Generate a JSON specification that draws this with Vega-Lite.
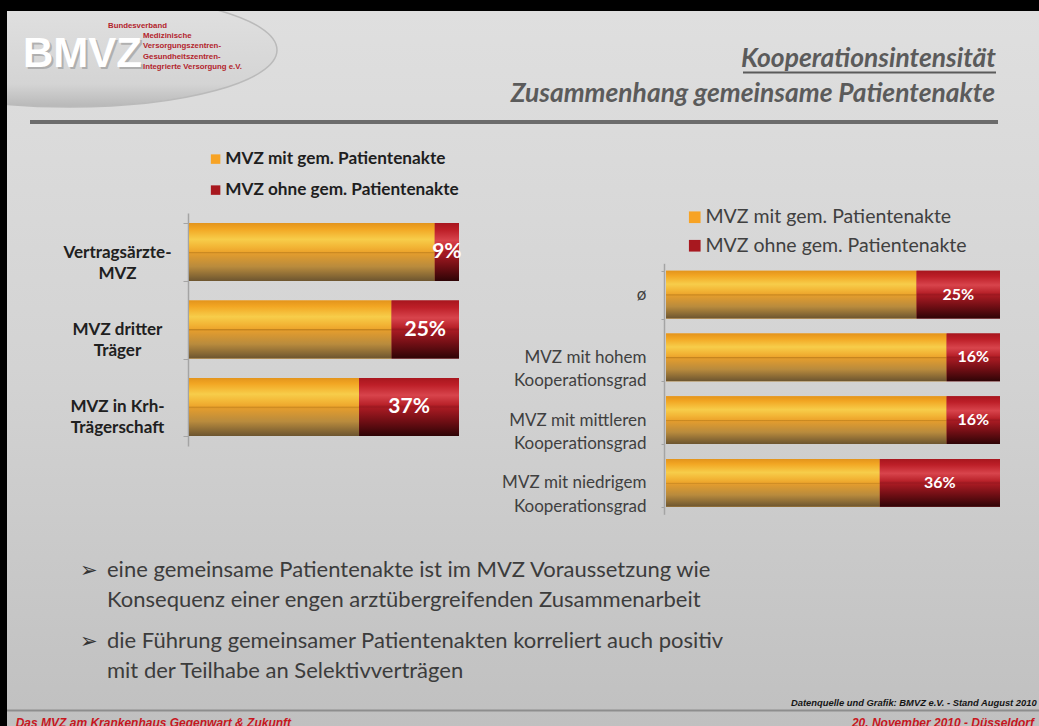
{
  "$schema": "https://vega.github.io/schema/vega-lite/v6.json",
  "width": 1032,
  "height": 715,
  "autosize": {"type": "none"},
  "padding": {"left": 7, "top": 11, "right": 0, "bottom": 0},
  "background": "#000000",
  "config": {
    "view": {
      "stroke": null,
      "fill": {"gradient": "linear", "x1": 0, "y1": 0, "x2": 0, "y2": 1,
        "stops": [{"offset": 0, "color": "#dfdfdf"}, {"offset": 0.5, "color": "#d3d3d3"}, {"offset": 1, "color": "#c0c0c0"}]}
    },
    "font": "Lato"
  },
  "datasets": {
    "links": [
      {"traeger": "Vertragsärzte-MVZ", "gruppe": "MVZ mit gem. Patientenakte", "anteil": 0.91},
      {"traeger": "Vertragsärzte-MVZ", "gruppe": "MVZ ohne gem. Patientenakte", "anteil": 0.09},
      {"traeger": "MVZ dritter Träger", "gruppe": "MVZ mit gem. Patientenakte", "anteil": 0.75},
      {"traeger": "MVZ dritter Träger", "gruppe": "MVZ ohne gem. Patientenakte", "anteil": 0.25},
      {"traeger": "MVZ in Krh-Trägerschaft", "gruppe": "MVZ mit gem. Patientenakte", "anteil": 0.63},
      {"traeger": "MVZ in Krh-Trägerschaft", "gruppe": "MVZ ohne gem. Patientenakte", "anteil": 0.37}
    ],
    "rechts": [
      {"grad": "ø", "gruppe": "MVZ mit gem. Patientenakte", "anteil": 0.75},
      {"grad": "ø", "gruppe": "MVZ ohne gem. Patientenakte", "anteil": 0.25},
      {"grad": "MVZ mit hohem Kooperationsgrad", "gruppe": "MVZ mit gem. Patientenakte", "anteil": 0.84},
      {"grad": "MVZ mit hohem Kooperationsgrad", "gruppe": "MVZ ohne gem. Patientenakte", "anteil": 0.16},
      {"grad": "MVZ mit mittleren Kooperationsgrad", "gruppe": "MVZ mit gem. Patientenakte", "anteil": 0.84},
      {"grad": "MVZ mit mittleren Kooperationsgrad", "gruppe": "MVZ ohne gem. Patientenakte", "anteil": 0.16},
      {"grad": "MVZ mit niedrigem Kooperationsgrad", "gruppe": "MVZ mit gem. Patientenakte", "anteil": 0.64},
      {"grad": "MVZ mit niedrigem Kooperationsgrad", "gruppe": "MVZ ohne gem. Patientenakte", "anteil": 0.36}
    ],
    "aussagen": [
      {"punkt": "➢", "aussage": "eine gemeinsame Patientenakte ist im MVZ Voraussetzung wie\nKonsequenz einer engen arztübergreifenden Zusammenarbeit"},
      {"punkt": "➢", "aussage": "die Führung gemeinsamer Patientenakten korreliert auch positiv\nmit der Teilhabe an Selektivverträgen"}
    ]
  },
  "resolve": {
    "scale": {"x": "independent", "y": "independent", "color": "independent"},
    "axis": {"x": "independent", "y": "independent"},
    "legend": {"color": "independent"}
  },
  "layer": [
    {
      "data": {"values": [{"form": "Logo-Ellipse"}]},
      "mark": {"type": "point", "shape": "M-1,0A1,0.275,0,1,0,1,0A1,0.275,0,1,0,-1,0Z", "filled": true,
        "fill": {"gradient": "linear", "x1": 0, "y1": 0, "x2": 0, "y2": 1,
          "stops": [{"offset": 0, "color": "#e2e2e2"}, {"offset": 0.8, "color": "#d4d4d4"}, {"offset": 1, "color": "#b8b8b8"}]},
        "stroke": "#bababa", "strokeWidth": 1.5, "opacity": 1, "size": 171396, "clip": true},
      "encoding": {
        "x": {"field": "form", "type": "nominal", "scale": {"range": [63, 63]}, "axis": null},
        "y": {"field": "form", "type": "nominal", "scale": {"range": [39, 39]}, "axis": null}
      }
    },
    {
      "data": {"values": [{"logo": "BMVZ"}]},
      "mark": {"type": "text", "font": "Liberation Sans", "fontWeight": "bold", "fontSize": 42, "align": "left", "baseline": "alphabetic", "color": "#8f8f8f", "opacity": 0.55},
      "encoding": {
        "text": {"field": "logo", "type": "nominal"},
        "x": {"field": "logo", "type": "nominal", "scale": {"range": [18, 18]}, "axis": null},
        "y": {"field": "logo", "type": "nominal", "scale": {"range": [57.5, 57.5]}, "axis": null}
      }
    },
    {
      "data": {"values": [{"logo": "BMVZ"}]},
      "mark": {"type": "text", "font": "Liberation Sans", "fontWeight": "bold", "fontSize": 42, "align": "left", "baseline": "alphabetic", "color": "#ffffff"},
      "encoding": {
        "text": {"field": "logo", "type": "nominal"},
        "x": {"field": "logo", "type": "nominal", "scale": {"range": [16, 16]}, "axis": null},
        "y": {"field": "logo", "type": "nominal", "scale": {"range": [55.5, 55.5]}, "axis": null}
      }
    },
    {
      "data": {"values": [{"verband": "Bundesverband"}]},
      "mark": {"type": "text", "font": "Liberation Sans", "fontWeight": "bold", "fontSize": 7.8, "align": "left", "baseline": "alphabetic", "color": "#b3242c"},
      "encoding": {
        "text": {"field": "verband", "type": "nominal"},
        "x": {"field": "verband", "type": "nominal", "scale": {"range": [101, 101]}, "axis": null},
        "y": {"field": "verband", "type": "nominal", "scale": {"range": [17, 17]}, "axis": null}
      }
    },
    {
      "data": {"values": [{"verband": "Medizinische\nVersorgungszentren-\nGesundheitszentren-\nIntegrierte Versorgung e.V."}]},
      "mark": {"type": "text", "font": "Liberation Sans", "fontWeight": "bold", "fontSize": 7.8, "align": "left", "baseline": "alphabetic", "lineBreak": "\n", "lineHeight": 10.3, "color": "#b3242c"},
      "encoding": {
        "text": {"field": "verband", "type": "nominal"},
        "x": {"field": "verband", "type": "nominal", "scale": {"range": [136, 136]}, "axis": null},
        "y": {"field": "verband", "type": "nominal", "scale": {"range": [27, 27]}, "axis": null}
      }
    },
    {
      "data": {"values": [{"titel": "Kooperationsintensität"}]},
      "mark": {"type": "text", "align": "right", "baseline": "alphabetic", "font": "Lato", "fontStyle": "italic", "fontWeight": "bold", "fontSize": 26.4, "color": "#5b5b5b"},
      "encoding": {
        "text": {"field": "titel", "type": "nominal"},
        "x": {"field": "titel", "type": "nominal", "scale": {"range": [989, 989]}, "axis": null},
        "y": {"field": "titel", "type": "nominal", "scale": {"range": [56, 56]}, "axis": null}
      }
    },
    {
      "data": {"values": [{"linie": "Unterstreichung"}]},
      "mark": {"type": "rule", "color": "#5b5b5b", "strokeWidth": 1.8},
      "encoding": {
        "y": {"field": "linie", "type": "nominal", "scale": {"range": [61.5, 61.5]}, "axis": null},
        "x": {"datum": 0, "type": "quantitative", "scale": {"domain": [0, 1], "range": [736, 989], "nice": false}, "axis": null},
        "x2": {"datum": 1}
      }
    },
    {
      "data": {"values": [{"titel": "Zusammenhang gemeinsame Patientenakte"}]},
      "mark": {"type": "text", "align": "right", "baseline": "alphabetic", "font": "Lato", "fontStyle": "italic", "fontWeight": "bold", "fontSize": 26.4, "color": "#5b5b5b"},
      "encoding": {
        "text": {"field": "titel", "type": "nominal"},
        "x": {"field": "titel", "type": "nominal", "scale": {"range": [988, 988]}, "axis": null},
        "y": {"field": "titel", "type": "nominal", "scale": {"range": [91, 91]}, "axis": null}
      }
    },
    {
      "data": {"values": [{"linie": "Kopfzeile"}]},
      "mark": {"type": "rule", "color": "#6c6c6c", "strokeWidth": 4},
      "encoding": {
        "y": {"field": "linie", "type": "nominal", "scale": {"range": [111, 111]}, "axis": null},
        "x": {"datum": 0, "type": "quantitative", "scale": {"domain": [0, 1], "range": [23, 991], "nice": false}, "axis": null},
        "x2": {"datum": 1}
      }
    },
    {
      "data": {"name": "links"},
      "encoding": {
        "y": {
          "field": "traeger", "type": "nominal", "sort": null,
          "scale": {"range": [202, 435], "paddingInner": 0.25, "paddingOuter": 0.13},
          "axis": {
            "orient": "left", "offset": -181, "title": null,
            "domainColor": "#a4a4a4", "domainWidth": 1.5, "tickColor": "#a4a4a4", "tickSize": 5, "tickWidth": 1, "tickBand": "extent",
            "labelFont": "Lato", "labelFontWeight": "bold", "labelFontSize": 17, "labelColor": "#202020",
            "labelAlign": "center", "labelBaseline": "middle", "labelPadding": 66, "labelLineHeight": 21,
            "labelOverlap": false, "labelLimit": 0,
            "labelExpr": "indexof(datum.label, '-') >= 0 ? [substring(datum.label, 0, indexof(datum.label, '-') + 1), substring(datum.label, indexof(datum.label, '-') + 1)] : [substring(datum.label, 0, lastindexof(datum.label, ' ')), substring(datum.label, lastindexof(datum.label, ' ') + 1)]"
          }
        }
      },
      "layer": [
        {
          "transform": [{"stack": "anteil", "groupby": ["traeger"], "sort": [{"field": "gruppe", "order": "ascending"}], "as": ["von", "bis"]}],
          "mark": {"type": "bar"},
          "encoding": {
            "x": {"field": "von", "type": "quantitative",
              "scale": {"domain": [0, 1], "range": [182, 452], "nice": false},
              "axis": {"orient": "bottom", "offset": -280, "title": null, "values": [0, 0.5, 1], "labels": false, "grid": false,
                "tickSize": -233, "tickColor": "#8b8b8b", "tickWidth": 1, "domainColor": "#a4a4a4", "domainWidth": 1.5}},
            "x2": {"field": "bis"},
            "color": {"field": "gruppe", "type": "nominal",
              "scale": {"domain": ["MVZ mit gem. Patientenakte", "MVZ ohne gem. Patientenakte"], "range": ["#f7a325", "#a8181f"]},
              "legend": {"orient": "none", "legendX": 200, "legendY": 139.5, "title": null, "symbolType": "square", "symbolSize": 90, "symbolStrokeWidth": 0,
                "labelFont": "Lato", "labelFontWeight": "bold", "labelFontSize": 17.2, "labelColor": "#1e1e1e", "labelOffset": 1, "rowPadding": 13, "padding": 0, "labelLimit": 400}}
          }
        },
        {
          "transform": [{"stack": "anteil", "groupby": ["traeger"], "sort": [{"field": "gruppe", "order": "ascending"}], "as": ["von", "bis"]}, {"filter": "datum.gruppe === 'MVZ mit gem. Patientenakte'"}],
          "mark": {"type": "bar", "color": {"gradient": "linear", "x1": 0, "y1": 0, "x2": 0, "y2": 1,
            "stops": [{"offset": 0, "color": "#e3941c"}, {"offset": 0.1, "color": "#f2a623"}, {"offset": 0.28, "color": "#f7cd4a"}, {"offset": 0.4, "color": "#f3b737"}, {"offset": 0.49, "color": "#eda52c"}, {"offset": 0.5, "color": "#c4841e"}, {"offset": 0.53, "color": "#e29c2e"}, {"offset": 0.75, "color": "#b98b3d"}, {"offset": 1, "color": "#6c5530"}]}},
          "encoding": {
            "x": {"field": "von", "type": "quantitative", "scale": {"domain": [0, 1], "range": [182, 452], "nice": false}, "axis": null},
            "x2": {"field": "bis"}
          }
        },
        {
          "transform": [{"stack": "anteil", "groupby": ["traeger"], "sort": [{"field": "gruppe", "order": "ascending"}], "as": ["von", "bis"]}, {"filter": "datum.gruppe === 'MVZ ohne gem. Patientenakte'"}],
          "mark": {"type": "bar", "color": {"gradient": "linear", "x1": 0, "y1": 0, "x2": 0, "y2": 1,
            "stops": [{"offset": 0, "color": "#a8161e"}, {"offset": 0.12, "color": "#bd1f28"}, {"offset": 0.3, "color": "#d8444c"}, {"offset": 0.46, "color": "#b9222a"}, {"offset": 0.5, "color": "#9c1820"}, {"offset": 0.53, "color": "#a51a22"}, {"offset": 0.75, "color": "#6f0e14"}, {"offset": 1, "color": "#2e0406"}]}},
          "encoding": {
            "x": {"field": "von", "type": "quantitative", "scale": {"domain": [0, 1], "range": [182, 452], "nice": false}, "axis": null},
            "x2": {"field": "bis"}
          }
        },
        {
          "mark": {"type": "text", "color": "#ffffff", "font": "Lato", "fontWeight": "bold", "fontSize": 21, "align": "center", "baseline": "middle"},
          "encoding": {
            "x": {"field": "anteil", "type": "quantitative", "stack": "zero", "bandPosition": 0.5, "scale": {"domain": [0, 1], "range": [182, 452], "nice": false}, "axis": null},
            "detail": {"field": "gruppe", "type": "nominal"},
            "order": {"field": "gruppe", "type": "ordinal", "sort": "ascending"},
            "text": {"condition": {"test": "datum.gruppe === 'MVZ ohne gem. Patientenakte'", "field": "anteil", "type": "quantitative", "format": ".0%"}, "value": ""}
          }
        }
      ]
    },
    {
      "data": {"name": "rechts"},
      "encoding": {
        "y": {
          "field": "grad", "type": "nominal", "sort": null,
          "scale": {"range": [252.3, 503.3], "paddingInner": 0.24, "paddingOuter": 0.12},
          "axis": {
            "orient": "left", "offset": -657, "title": null,
            "domainColor": "#a4a4a4", "domainWidth": 1.5, "tickColor": "#a4a4a4", "tickSize": 3, "tickWidth": 1, "tickBand": "extent",
            "labelFont": "Lato", "labelFontSize": 17, "labelColor": "#404040",
            "labelAlign": "right", "labelBaseline": "middle", "labelPadding": 15, "labelLineHeight": 23.4,
            "labelOverlap": false, "labelLimit": 0,
            "labelExpr": "lastindexof(datum.label, ' ') > 0 ? [substring(datum.label, 0, lastindexof(datum.label, ' ')), substring(datum.label, lastindexof(datum.label, ' ') + 1)] : datum.label"
          }
        }
      },
      "layer": [
        {
          "transform": [{"stack": "anteil", "groupby": ["grad"], "sort": [{"field": "gruppe", "order": "ascending"}], "as": ["von", "bis"]}],
          "mark": {"type": "bar"},
          "encoding": {
            "x": {"field": "von", "type": "quantitative",
              "scale": {"domain": [0, 1], "range": [659, 993], "nice": false},
              "axis": {"orient": "bottom", "offset": -211.7, "title": null, "values": [0, 0.5, 1], "labels": false, "grid": false,
                "tickSize": -251, "tickColor": "#8b8b8b", "tickWidth": 1, "domainColor": "#a4a4a4", "domainWidth": 1.5}},
            "x2": {"field": "bis"},
            "color": {"field": "gruppe", "type": "nominal",
              "scale": {"domain": ["MVZ mit gem. Patientenakte", "MVZ ohne gem. Patientenakte"], "range": ["#f7a325", "#a8181f"]},
              "legend": {"orient": "none", "legendX": 678, "legendY": 196.5, "title": null, "symbolType": "square", "symbolSize": 136, "symbolStrokeWidth": 0,
                "labelFont": "Lato", "labelFontSize": 19.5, "labelColor": "#404040", "labelOffset": 1, "rowPadding": 7.5, "padding": 0, "labelLimit": 400}}
          }
        },
        {
          "transform": [{"stack": "anteil", "groupby": ["grad"], "sort": [{"field": "gruppe", "order": "ascending"}], "as": ["von", "bis"]}, {"filter": "datum.gruppe === 'MVZ mit gem. Patientenakte'"}],
          "mark": {"type": "bar", "color": {"gradient": "linear", "x1": 0, "y1": 0, "x2": 0, "y2": 1,
            "stops": [{"offset": 0, "color": "#e3941c"}, {"offset": 0.1, "color": "#f2a623"}, {"offset": 0.28, "color": "#f7cd4a"}, {"offset": 0.4, "color": "#f3b737"}, {"offset": 0.49, "color": "#eda52c"}, {"offset": 0.5, "color": "#c4841e"}, {"offset": 0.53, "color": "#e29c2e"}, {"offset": 0.75, "color": "#b98b3d"}, {"offset": 1, "color": "#6c5530"}]}},
          "encoding": {
            "x": {"field": "von", "type": "quantitative", "scale": {"domain": [0, 1], "range": [659, 993], "nice": false}, "axis": null},
            "x2": {"field": "bis"}
          }
        },
        {
          "transform": [{"stack": "anteil", "groupby": ["grad"], "sort": [{"field": "gruppe", "order": "ascending"}], "as": ["von", "bis"]}, {"filter": "datum.gruppe === 'MVZ ohne gem. Patientenakte'"}],
          "mark": {"type": "bar", "color": {"gradient": "linear", "x1": 0, "y1": 0, "x2": 0, "y2": 1,
            "stops": [{"offset": 0, "color": "#a8161e"}, {"offset": 0.12, "color": "#bd1f28"}, {"offset": 0.3, "color": "#d8444c"}, {"offset": 0.46, "color": "#b9222a"}, {"offset": 0.5, "color": "#9c1820"}, {"offset": 0.53, "color": "#a51a22"}, {"offset": 0.75, "color": "#6f0e14"}, {"offset": 1, "color": "#2e0406"}]}},
          "encoding": {
            "x": {"field": "von", "type": "quantitative", "scale": {"domain": [0, 1], "range": [659, 993], "nice": false}, "axis": null},
            "x2": {"field": "bis"}
          }
        },
        {
          "mark": {"type": "text", "color": "#ffffff", "font": "Lato", "fontWeight": "bold", "fontSize": 16, "align": "center", "baseline": "middle"},
          "encoding": {
            "x": {"field": "anteil", "type": "quantitative", "stack": "zero", "bandPosition": 0.5, "scale": {"domain": [0, 1], "range": [659, 993], "nice": false}, "axis": null},
            "detail": {"field": "gruppe", "type": "nominal"},
            "order": {"field": "gruppe", "type": "ordinal", "sort": "ascending"},
            "text": {"condition": {"test": "datum.gruppe === 'MVZ ohne gem. Patientenakte'", "field": "anteil", "type": "quantitative", "format": ".0%"}, "value": ""}
          }
        }
      ]
    },
    {
      "data": {"name": "aussagen"},
      "mark": {"type": "text", "font": "DejaVu Sans", "fontSize": 21, "align": "left", "baseline": "middle", "color": "#333333"},
      "encoding": {
        "text": {"field": "punkt", "type": "nominal"},
        "x": {"field": "punkt", "type": "nominal", "scale": {"range": [73, 73]}, "axis": null},
        "y": {"field": "aussage", "type": "nominal", "sort": null, "scale": {"range": [560, 631], "padding": 0}, "axis": null}
      }
    },
    {
      "data": {"name": "aussagen"},
      "mark": {"type": "text", "font": "Lato", "fontSize": 22, "align": "left", "baseline": "alphabetic", "lineBreak": "\n", "lineHeight": 29.5, "color": "#3c3c3c"},
      "encoding": {
        "text": {"field": "aussage", "type": "nominal"},
        "x": {"field": "punkt", "type": "nominal", "scale": {"range": [100, 100]}, "axis": null},
        "y": {"field": "aussage", "type": "nominal", "sort": null, "scale": {"range": [566, 637], "padding": 0}, "axis": null}
      }
    },
    {
      "data": {"values": [{"quelle": "Datenquelle und Grafik: BMVZ e.V. - Stand August 2010"}]},
      "mark": {"type": "text", "font": "Liberation Sans", "fontStyle": "italic", "fontWeight": "bold", "fontSize": 9.4, "align": "right", "baseline": "alphabetic", "color": "#151515"},
      "encoding": {
        "text": {"field": "quelle", "type": "nominal"},
        "x": {"field": "quelle", "type": "nominal", "scale": {"range": [1029.7, 1029.7]}, "axis": null},
        "y": {"field": "quelle", "type": "nominal", "scale": {"range": [695, 695]}, "axis": null}
      }
    },
    {
      "data": {"values": [{"linie": "Fußzeile"}]},
      "mark": {"type": "rule", "color": "#8d8d8d", "strokeWidth": 2},
      "encoding": {
        "y": {"field": "linie", "type": "nominal", "scale": {"range": [699.5, 699.5]}, "axis": null}
      }
    },
    {
      "data": {"values": [{"fuss": "Das MVZ am Krankenhaus Gegenwart & Zukunft"}]},
      "mark": {"type": "text", "font": "Liberation Sans", "fontStyle": "italic", "fontWeight": "bold", "fontSize": 12, "align": "left", "baseline": "alphabetic", "color": "#c8161e"},
      "encoding": {
        "text": {"field": "fuss", "type": "nominal"},
        "x": {"field": "fuss", "type": "nominal", "scale": {"range": [8.7, 8.7]}, "axis": null},
        "y": {"field": "fuss", "type": "nominal", "scale": {"range": [715.6, 715.6]}, "axis": null}
      }
    },
    {
      "data": {"values": [{"fuss": "20. November 2010 - Düsseldorf"}]},
      "mark": {"type": "text", "font": "Liberation Sans", "fontStyle": "italic", "fontWeight": "bold", "fontSize": 12, "align": "right", "baseline": "alphabetic", "color": "#c8161e"},
      "encoding": {
        "text": {"field": "fuss", "type": "nominal"},
        "x": {"field": "fuss", "type": "nominal", "scale": {"range": [1027, 1027]}, "axis": null},
        "y": {"field": "fuss", "type": "nominal", "scale": {"range": [715.6, 715.6]}, "axis": null}
      }
    }
  ]
}
